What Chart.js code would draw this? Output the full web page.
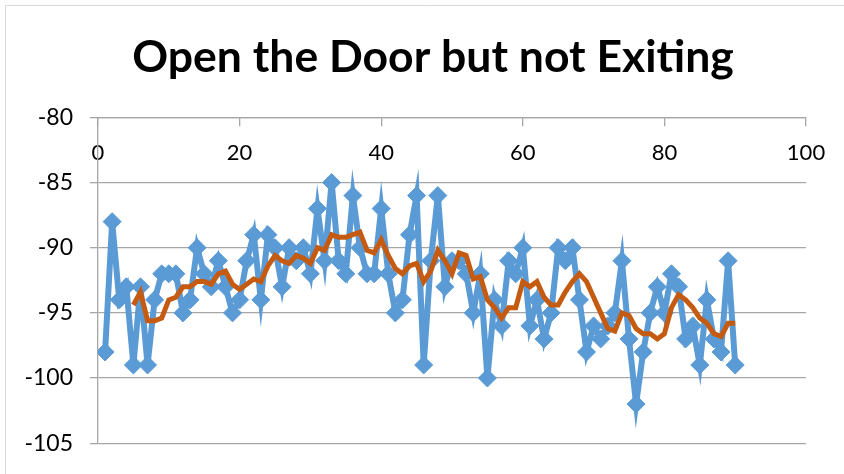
<!DOCTYPE html>
<html lang="en">
<head>
<meta charset="UTF-8">
<title>Open the Door but not Exiting</title>
<script src="https://cdn.jsdelivr.net/npm/chart.js"></script>
<style>
  * { margin: 0; padding: 0; box-sizing: border-box; }
  body { background: #fff; width: 844px; height: 474px; overflow: hidden; }
  #wrap { position: relative; width: 844px; height: 474px; }
</style>
</head>
<body>
<div id="wrap"><canvas id="chart" width="844" height="474"></canvas></div>
<script>
// sample index (x) and signal readings (y)
const samples = [
  1, 2, 3, 4, 5, 6, 7, 8, 9, 10, 11, 12, 13, 14, 15, 16, 17, 18, 19, 20,
  21, 22, 23, 24, 25, 26, 27, 28, 29, 30, 31, 32, 33, 34, 35, 36, 37, 38, 39, 40,
  41, 42, 43, 44, 45, 46, 47, 48, 49, 50, 51, 52, 53, 54, 55, 56, 57, 58, 59, 60,
  61, 62, 63, 64, 65, 66, 67, 68, 69, 70, 71, 72, 73, 74, 75, 76, 77, 78, 79, 80,
  81, 82, 83, 84, 85, 86, 87, 88, 89, 90
];
const rssi = [
  -98, -88, -94, -93, -99, -93, -99, -94, -92, -92,
  -92, -95, -94, -90, -92, -93, -91, -93, -95, -94,
  -91, -89, -94, -89, -90, -93, -90, -91, -90, -92,
  -87, -91, -85, -91, -92, -86, -90, -92, -92, -87,
  -92, -95, -94, -89, -86, -99, -91, -86, -93, -91,
  -91, -92, -95, -92, -100, -94, -96, -91, -92, -90,
  -96, -94, -97, -95, -90, -91, -90, -94, -98, -96,
  -97, -96, -95, -91, -97, -102, -98, -95, -93, -95,
  -92, -93, -97, -96, -99, -94, -97, -98, -91, -99
];
const xTicks = [0, 20, 40, 60, 80, 100];
const yTicks = [-105, -100, -95, -90, -85, -80];
const maPeriod = 5;

// Excel-style moving average trendline
const trend = [];
for (let i = maPeriod - 1; i < rssi.length; i++) {
  let sum = 0;
  for (let k = i - maPeriod + 1; k <= i; k++) sum += rssi[k];
  trend.push({ x: samples[i], y: sum / maPeriod });
}

const gridColor = '#a6a6a6';

// thin grey frame on the top and left edges
const framePlugin = {
  id: 'frame',
  afterLayout(chart) {
    // centre the title a little right of the plot, as in the original
    if (chart.titleBlock) {
      chart.titleBlock.left = 60;
      chart.titleBlock.right = chart.chartArea.right;
    }
  },
  beforeDraw(chart) {
    const ctx = chart.ctx;
    ctx.save();
    ctx.strokeStyle = '#d9d9d9';
    ctx.lineWidth = 1;
    ctx.beginPath();
    ctx.moveTo(5.5, 474);
    ctx.lineTo(5.5, 5.5);
    ctx.lineTo(844, 5.5);
    ctx.stroke();
    ctx.restore();
  }
};

new Chart(document.getElementById('chart'), {
  type: 'line',
  data: {
    datasets: [
      {
        label: 'RSSI',
        data: samples.map((x, i) => ({ x, y: rssi[i] })),
        borderColor: '#5b9bd5',
        backgroundColor: '#5b9bd5',
        borderWidth: 6,
        pointStyle: 'rectRot',
        pointRadius: 9,
        pointBorderWidth: 1,
        tension: 0,
        order: 2
      },
      {
        label: '5 per. Mov. Avg.',
        data: trend,
        borderColor: '#c55a11',
        borderWidth: 5,
        pointRadius: 0,
        tension: 0,
        order: 1
      }
    ]
  },
  options: {
    responsive: false,
    animation: false,
    events: [],
    layout: { padding: { left: 0, right: 38, bottom: 25, top: 0 } },
    plugins: {
      legend: { display: false },
      tooltip: { enabled: false },
      title: {
        display: true,
        text: 'Open the Door but not Exiting',
        color: '#000',
        font: { family: 'Lato', size: 44.5, weight: 'bold' },
        padding: { top: 31, bottom: 33 }
      }
    },
    scales: {
      x: {
        type: 'linear',
        position: { y: -80 },
        min: 0,
        max: 100,
        afterBuildTicks: s => { s.ticks = xTicks.map(v => ({ value: v })); },
        ticks: { color: '#000', font: { family: 'Lato', size: 22 }, padding: 14 },
        grid: { drawOnChartArea: false, drawTicks: true, tickLength: 8, color: gridColor, lineWidth: 1.3 },
        border: { display: true, color: gridColor, width: 1.3 }
      },
      y: {
        type: 'linear',
        position: 'left',
        min: -105,
        max: -80,
        afterBuildTicks: s => { s.ticks = yTicks.map(v => ({ value: v })); },
        afterFit: s => { s.width = 98; },
        ticks: { color: '#000', font: { family: 'Lato', size: 23 }, padding: 17 },
        grid: { color: gridColor, lineWidth: 1.3, drawTicks: true, tickLength: 8 },
        border: { display: true, color: gridColor, width: 1.3 }
      }
    }
  },
  plugins: [framePlugin]
});
</script>
</body>
</html>
